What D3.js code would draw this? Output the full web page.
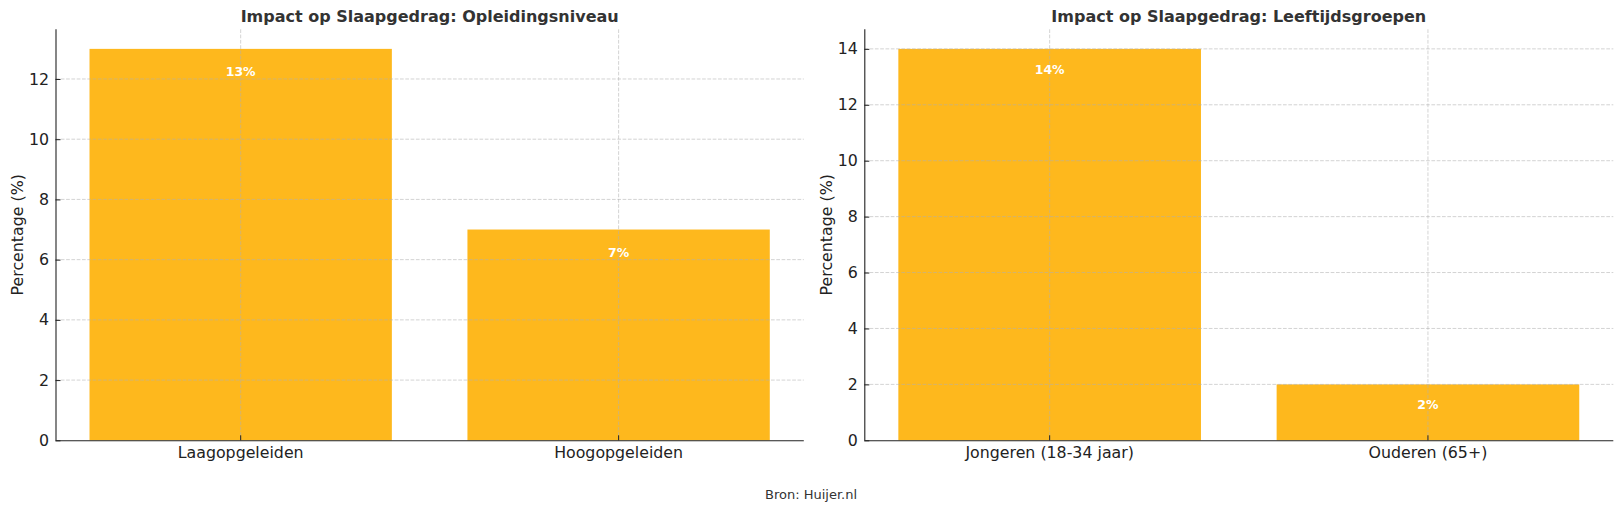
<!DOCTYPE html>
<html>
<head>
<meta charset="utf-8">
<script src="https://cdn.jsdelivr.net/npm/d3@7"></script>
<style>
  html, body { margin: 0; padding: 0; background: #fff; }
  svg { display: block; font-family: "DejaVu Sans", sans-serif; }
</style>
</head>
<body>
<svg id="chart" width="1622" height="511"></svg>
<script>
// ---- data ----
const titleEdu = "Impact op Slaapgedrag: Opleidingsniveau";
const categoriesEdu = ["Laagopgeleiden", "Hoogopgeleiden"];
const valuesEdu = [13, 7];
const ticksEdu = [0, 2, 4, 6, 8, 10, 12];

const titleAge = "Impact op Slaapgedrag: Leeftijdsgroepen";
const categoriesAge = ["Jongeren (18-34 jaar)", "Ouderen (65+)"];
const valuesAge = [14, 2];
const ticksAge = [0, 2, 4, 6, 8, 10, 12, 14];

const yLabel = "Percentage (%)";
const source = "Bron: Huijer.nl";

// ---- drawing ----
const svg = d3.select("#chart");
const barColor = "#FEB81D";
const gridColor = "#b0b0b0";

function panel(opts) {
  const { left, right, top, bottom, cats, vals, ticks, title } = opts;
  const g = svg.append("g");
  const yMax = d3.max(vals) * 1.05;
  const x = d3.scaleBand().domain(cats).range([left, right])
    .paddingInner(0.2).paddingOuter(0.09);
  const y = d3.scaleLinear().domain([0, yMax]).range([bottom, top]);

  // bars
  g.selectAll("rect.bar").data(cats).enter().append("rect")
    .attr("class", "bar")
    .attr("x", d => x(d))
    .attr("width", x.bandwidth())
    .attr("y", (d, i) => y(vals[i]))
    .attr("height", (d, i) => y(0) - y(vals[i]))
    .attr("fill", barColor);

  // grid
  const grid = g.append("g").attr("stroke", gridColor).attr("stroke-opacity", 0.7)
    .attr("stroke-width", 0.8).attr("stroke-dasharray", "3.7,1.6");
  grid.selectAll("line.h").data(ticks.filter(t => t > 0)).enter().append("line")
    .attr("x1", left).attr("x2", right)
    .attr("y1", d => y(d)).attr("y2", d => y(d));
  grid.selectAll("line.v").data(cats).enter().append("line")
    .attr("x1", d => x(d) + x.bandwidth() / 2).attr("x2", d => x(d) + x.bandwidth() / 2)
    .attr("y1", top).attr("y2", bottom);

  // value labels
  g.selectAll("text.val").data(cats).enter().append("text")
    .attr("class", "val")
    .attr("x", d => x(d) + x.bandwidth() / 2)
    .attr("y", (d, i) => y(vals[i] - 1) - 3)
    .attr("text-anchor", "middle")
    .attr("fill", "#fff")
    .attr("font-weight", "bold")
    .attr("font-size", "12.5px")
    .text((d, i) => vals[i] + "%");

  // axes
  const yAxis = d3.axisLeft(y).tickValues(ticks).tickFormat(d3.format("d"))
    .tickSize(-5).tickSizeOuter(0).tickPadding(6.5);
  const ya = g.append("g").attr("transform", `translate(${left},0)`).call(yAxis);
  const xAxis = d3.axisBottom(x).tickSize(-5).tickSizeOuter(0).tickPadding(6.8);
  const xa = g.append("g").attr("transform", `translate(0,${bottom})`).call(xAxis);
  [ya, xa].forEach(a => {
    a.selectAll("text").attr("font-size", "15.8px").attr("fill", "#222")
      .attr("font-family", "DejaVu Sans, sans-serif");
    a.selectAll("line").attr("stroke", "#222").attr("stroke-width", 1);
    a.select(".domain").attr("stroke", "#222").attr("stroke-width", 1.1);
  });
  xa.select(".domain").attr("d", `M${left},0.5H${right}`);
  ya.select(".domain").attr("d", `M0.5,${top}V${bottom}`);

  // title
  g.append("text")
    .attr("x", (left + right) / 2).attr("y", 22)
    .attr("text-anchor", "middle")
    .attr("font-weight", "bold").attr("font-size", "16px").attr("fill", "#333")
    .text(title);

  // y label
  g.append("text")
    .attr("transform", `translate(${left - 32.5},${(top + bottom) / 2}) rotate(-90)`)
    .attr("text-anchor", "middle")
    .attr("font-size", "15.8px").attr("fill", "#222")
    .text(yLabel);
}

panel({ left: 55.5, right: 803.8, top: 29.3, bottom: 440.3,
  cats: categoriesEdu, vals: valuesEdu, ticks: ticksEdu, title: titleEdu });
panel({ left: 864.3, right: 1613.3, top: 29.3, bottom: 440.3,
  cats: categoriesAge, vals: valuesAge, ticks: ticksAge, title: titleAge });

svg.append("text")
  .attr("x", 811).attr("y", 498.5)
  .attr("text-anchor", "middle")
  .attr("font-size", "13px").attr("fill", "#333")
  .text(source);
</script>
</body>
</html>
